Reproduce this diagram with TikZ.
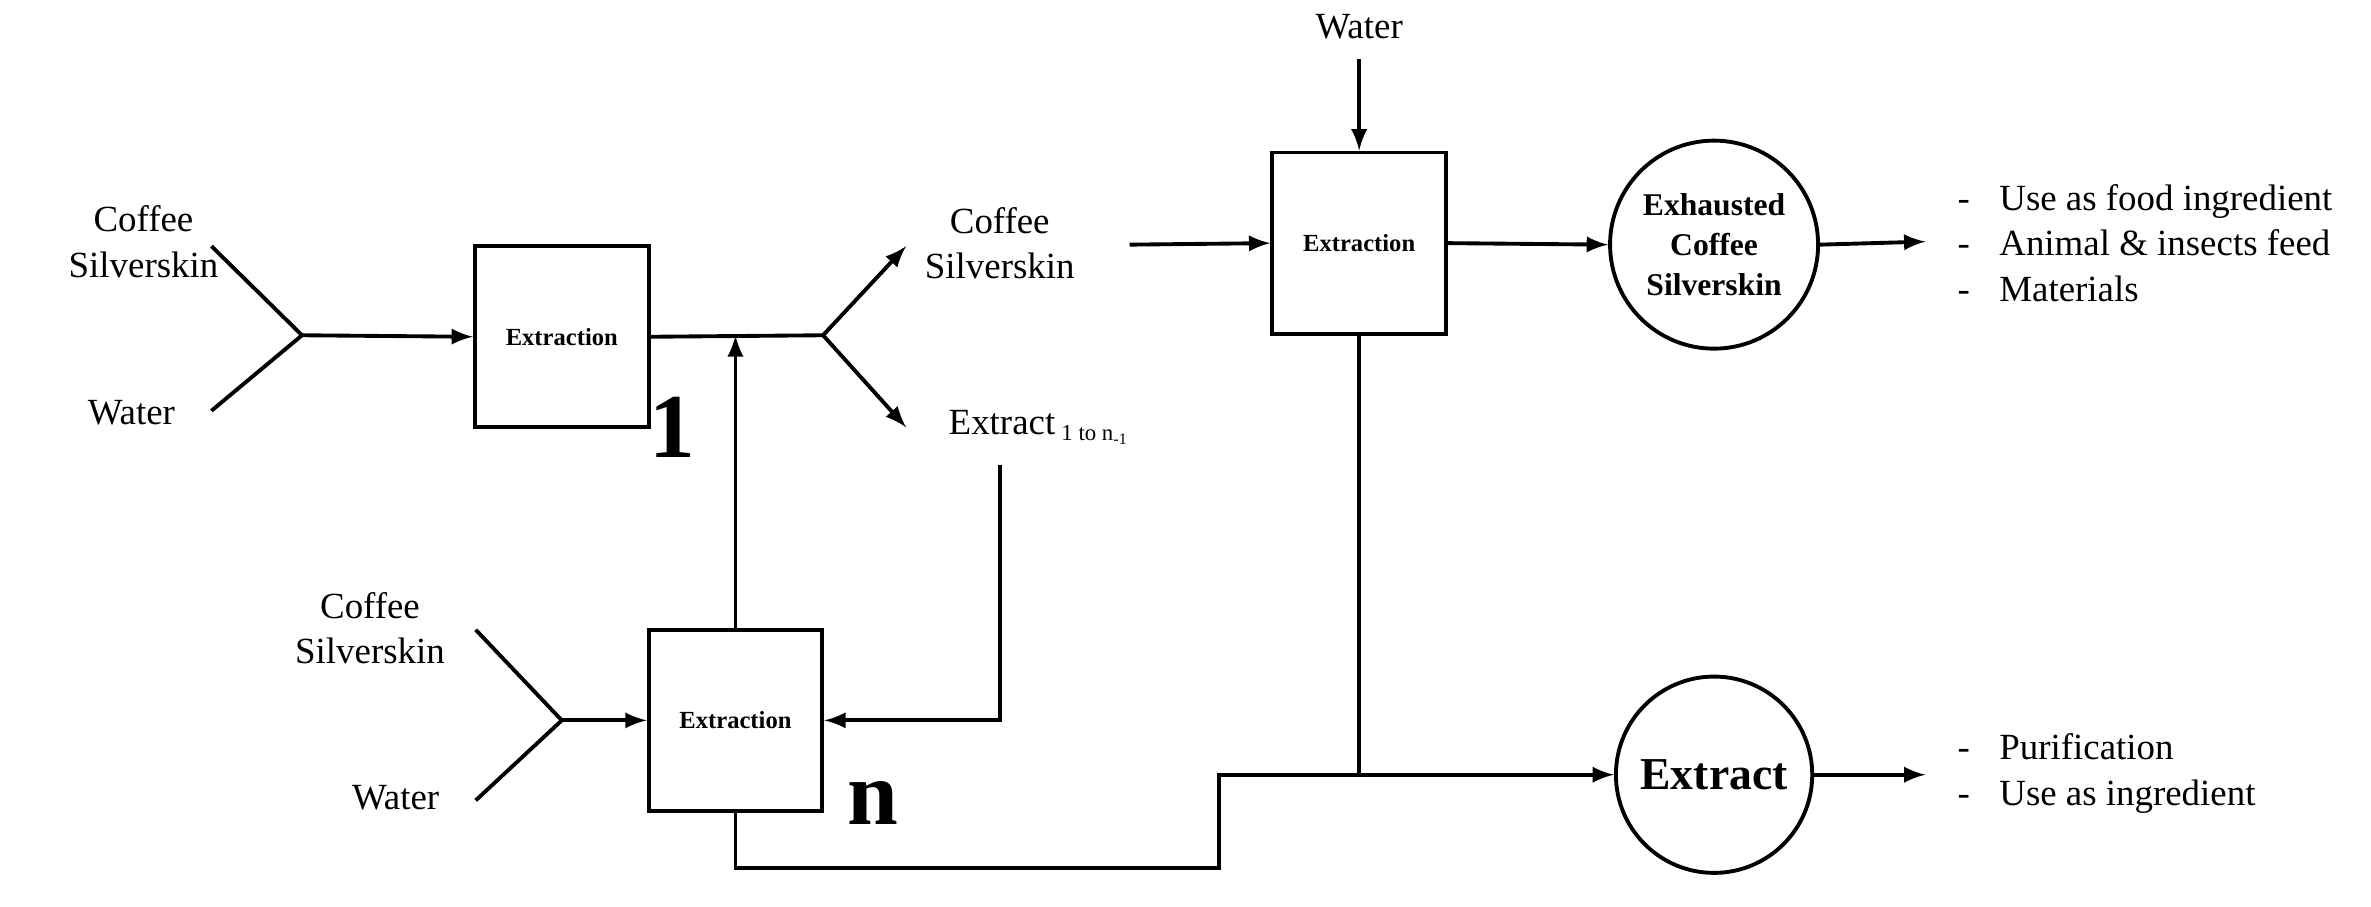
\documentclass[tikz,border=0pt]{standalone}
\usepackage{fontspec}
\setmainfont{Liberation Serif}
\begin{document}
\begin{tikzpicture}[x=0.0151cm,y=-0.0151cm,
  ln/.style={line width=1.1pt},
  ar/.style={ln,-latex},
  box/.style={draw,line width=1.1pt,minimum width=115*0.0151cm,minimum height=120*0.0151cm,font=\fontsize{7}{9}\selectfont\bfseries},
  circ/.style={draw,circle,line width=1.1pt,minimum size=130*0.0151cm,align=center},
  txt/.style={font=\fontsize{10.5}{13}\selectfont,align=center},
  big/.style={font=\fontsize{26}{28}\selectfont\bfseries}]
\useasboundingbox (0,0) rectangle (1570,600);
% box 1
\node[box] (b1) at (372,223) {Extraction};
\node[big] (n1) at (445,283) {1};
\node[txt] (cs1) at (95,160) {Coffee\\Silverskin};
\node[txt] (w1) at (87,273) {Water};
\coordinate (v1a) at (140,163); \coordinate (v1b) at (140,272); \coordinate (v1) at (200,222);
\draw[ln] (v1a) -- (v1) -- (v1b);
\draw[ar] (v1) -- (b1.west);
% split
\coordinate (s1) at (545,222); \coordinate (j1) at (487,222);
\draw[ln] (b1.east) -- (s1);
\draw[ar] (s1) -- (600,163);
\draw[ar] (s1) -- (600,283);
\node[txt] (cs2) at (662,161) {Coffee\\Silverskin};
\node[txt,anchor=west] (ex1) at (620,283) {Extract\,\textsubscript{\fontsize{6.5}{8}\selectfont 1 to n\textsubscript{-1}}};
% box n
\node[box] (bn) at (487,477) {Extraction};
\node[big] (nn) at (578,532) {n};
\draw[ar] (bn.north) -- (j1);
\node[txt] (cs3) at (245,416) {Coffee\\Silverskin};
\node[txt] (w3) at (262,528) {Water};
\coordinate (v2a) at (315,417); \coordinate (v2b) at (315,530); \coordinate (v2) at (372,477);
\draw[ln] (v2a) -- (v2) -- (v2b);
\draw[ar] (v2) -- (bn.west);
\coordinate (e1) at (662,308); \coordinate (e2) at (662,477);
\draw[ar] (e1) -- (e2) -- (bn.east);
% box 3
\node[box] (b3) at (900,161) {Extraction};
\node[txt] (w4) at (900,18) {Water};
\draw[ar] (w4.south) ++(0,5) -- (b3.north);
\draw[ar] (748,162) -- (b3.west);
\node[circ,font=\fontsize{9}{11.5}\selectfont\bfseries] (c1) at (1135,162) {Exhausted\\Coffee\\Silverskin};
\node[circ,font=\fontsize{13}{15}\selectfont\bfseries] (c2) at (1135,513) {Extract};
\draw[ar] (b3.east) -- (c1.west);
\draw[ar] (c1.east) -- (1275,160);
\coordinate (j2) at (900,513);
\draw[ln] (b3.south) -- (j2);
\draw[ar] (bn.south) -- (487,575) -- (807,575) -- (807,513) -- (c2.west);
\draw[ar] (c2.east) -- (1275,513);
% lists
\node[txt,anchor=west,align=left] (l1) at (1288,161) {-\hspace{0.8em}Use as food ingredient\\-\hspace{0.8em}Animal \& insects feed\\-\hspace{0.8em}Materials};
\node[txt,anchor=west,align=left] (l2) at (1288,512) {-\hspace{0.8em}Purification\\-\hspace{0.8em}Use as ingredient};
\end{tikzpicture}
\end{document}
